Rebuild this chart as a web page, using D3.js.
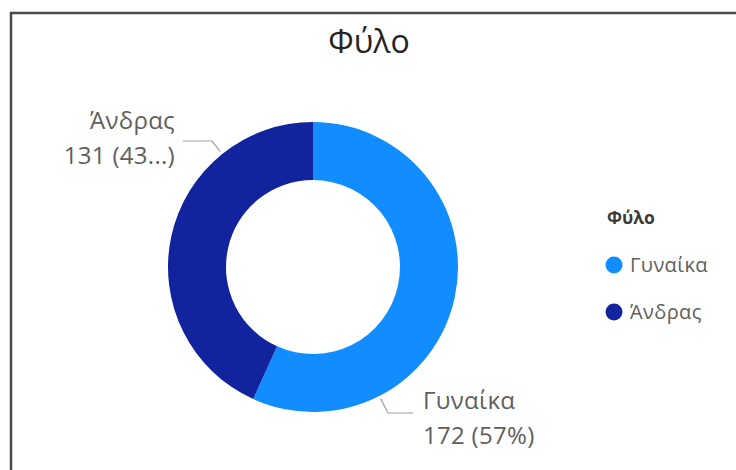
<!DOCTYPE html>
<html>
<head>
<meta charset="utf-8">
<script src="https://cdn.jsdelivr.net/npm/d3@7"></script>
<style>
  html, body { margin: 0; padding: 0; background: #fff; }
  svg { display: block; }
  text { font-family: "Segoe UI", "Open Sans", "Noto Sans", sans-serif; }
</style>
</head>
<body>
<svg id="chart" width="736" height="470"></svg>
<script>
// Data
const categories = ["Γυναίκα", "Άνδρας"];
const values = [172, 131];
const labelTexts = ["172 (57%)", "131 (43...)"];
const colors = ["#118DFF", "#12239E"];
const chartTitle = "Φύλο";
const legendTitle = "Φύλο";

const svg = d3.select("#chart");
const W = 736, H = 470;

// Card frame (top and left edges visible)
svg.append("path")
  .attr("d", `M11,${H} L11,13 L${W},13`)
  .attr("fill", "none")
  .attr("stroke", "#4a4a4a")
  .attr("stroke-width", 2.5);

// Title
svg.append("text")
  .attr("x", 369).attr("y", 53)
  .attr("text-anchor", "middle")
  .attr("font-size", 32)
  .attr("fill", "#252423")
  .text(chartTitle);

// Donut
const cx = 313, cy = 267, outerR = 145, innerR = 87;
const data = categories.map((c, i) => ({ cat: c, value: values[i], label: labelTexts[i], color: colors[i] }));
const pie = d3.pie().value(d => d.value).sort(null);
const arc = d3.arc().innerRadius(innerR).outerRadius(outerR);
const arcs = pie(data);

const g = svg.append("g").attr("transform", `translate(${cx},${cy})`);
g.selectAll("path.slice")
  .data(arcs)
  .join("path")
  .attr("class", "slice")
  .attr("d", arc)
  .attr("fill", d => d.data.color);

// Leader lines and data labels
const labelCfg = {
  "Γυναίκα": { elbow: [75, 146], end: [100, 146], tx: 110, ty: 142, anchor: "start" },
  "Άνδρας":  { elbow: [-101, -126], end: [-130, -126], tx: -138, ty: -138, anchor: "end" }
};

arcs.forEach(a => {
  const cfg = labelCfg[a.data.cat];
  // start point just outside the slice edge, toward the elbow
  const ang = Math.atan2(cfg.elbow[1], cfg.elbow[0]);
  const sx = Math.cos(ang) * (outerR + 3), sy = Math.sin(ang) * (outerR + 3);
  g.append("polyline")
    .attr("points", [[sx, sy], cfg.elbow, cfg.end].map(p => p.join(",")).join(" "))
    .attr("fill", "none")
    .attr("stroke", "#a19f9d")
    .attr("stroke-width", 1.2);
  const t = g.append("text")
    .attr("x", cfg.tx).attr("y", cfg.ty)
    .attr("text-anchor", cfg.anchor)
    .attr("font-size", 24)
    .attr("letter-spacing", 0.3)
    .attr("fill", "#605e5c");
  t.append("tspan").attr("x", cfg.tx).attr("dy", 0).text(a.data.cat);
  t.append("tspan").attr("x", cfg.tx).attr("dy", 35).text(a.data.label);
});

// Legend
const lg = svg.append("g").attr("transform", "translate(603,0)");
lg.append("text")
  .attr("x", 4).attr("y", 224)
  .attr("font-size", 17.5)
  .attr("font-weight", "bold")
  .attr("fill", "#3b3a39")
  .text(legendTitle);
const items = lg.selectAll("g.item")
  .data(data)
  .join("g")
  .attr("class", "item")
  .attr("transform", (d, i) => `translate(0, ${265 + i * 47})`);
items.append("circle")
  .attr("cx", 11).attr("cy", 0).attr("r", 8.5)
  .attr("fill", d => d.color);
items.append("text")
  .attr("x", 27).attr("y", 7)
  .attr("font-size", 20)
  .attr("letter-spacing", 0.4)
  .attr("fill", "#605e5c")
  .text(d => d.cat);
</script>
</body>
</html>
